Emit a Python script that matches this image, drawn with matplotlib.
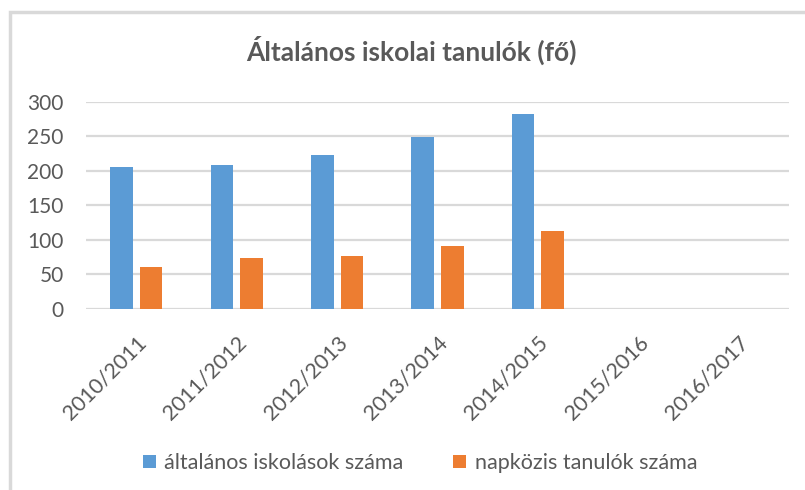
import matplotlib
matplotlib.use("Agg")
import matplotlib.pyplot as plt
import numpy as np
from matplotlib.patches import Rectangle

categories = ["2010/2011", "2011/2012", "2012/2013", "2013/2014", "2014/2015", "2015/2016", "2016/2017"]
altalanos = [205, 208, 223, 249, 282, None, None]
napkozis = [61, 74, 76, 91, 113, None, None]
series_names = ["általános iskolások száma", "napközis tanulók száma"]
yticks = [0, 50, 100, 150, 200, 250, 300]

plt.rcParams['font.family'] = ['Lato', 'DejaVu Sans']
txt = "#595959"

fig = plt.figure(figsize=(8.05, 4.9), dpi=100)
ax = fig.add_axes([0.1068, 0.3694, 0.9801 - 0.1068, 0.7925 - 0.3694])

x = np.arange(len(categories))
w = 0.225
off = 0.147
bx = [xi for xi, v in zip(x, altalanos) if v is not None]
bv = [v for v in altalanos if v is not None]
ox = [xi for xi, v in zip(x, napkozis) if v is not None]
ov = [v for v in napkozis if v is not None]
ax.bar(np.array(bx) - off, bv, w, color="#5B9BD5", label=series_names[0], zorder=3)
ax.bar(np.array(ox) + off, ov, w, color="#ED7D31", label=series_names[1], zorder=3)

ax.set_xlim(-0.5, len(categories) - 0.5)
ax.set_ylim(0, 300)
ax.set_yticks(yticks)
ax.set_yticklabels([str(t) for t in yticks], fontsize=15, color=txt)
ax.yaxis.grid(True, color="#D9D9D9", linewidth=1.6, zorder=0)
ax.set_axisbelow(True)
for s in ax.spines.values():
    s.set_visible(False)
ax.tick_params(axis='both', length=0)
ax.tick_params(axis='y', pad=16)
ax.set_xticks(x)
ax.set_xticklabels(categories, rotation=45, ha='right', rotation_mode='anchor',
                   fontsize=15.5, color=txt)
ax.tick_params(axis='x', pad=17)

fig.text(411 / 805, 1 - 50 / 490, "Általános iskolai tanulók (fő)", ha='center', va='center',
         fontsize=19, fontweight='bold', color=txt)

leg = fig.legend(loc='center', bbox_to_anchor=(420 / 805, 1 - 463 / 490), ncol=2, frameon=False,
                 fontsize=15.5, handlelength=0.6, handleheight=0.6, handletextpad=0.4,
                 columnspacing=2.3, labelcolor=txt)

fig.patches.append(Rectangle((10 / 805, -0.1), 1.2, (490 - 12) / 490 + 0.1, transform=fig.transFigure,
                             fill=False, edgecolor="#D9D9D9", linewidth=2.5))

fig.savefig("out.png", dpi=100)
